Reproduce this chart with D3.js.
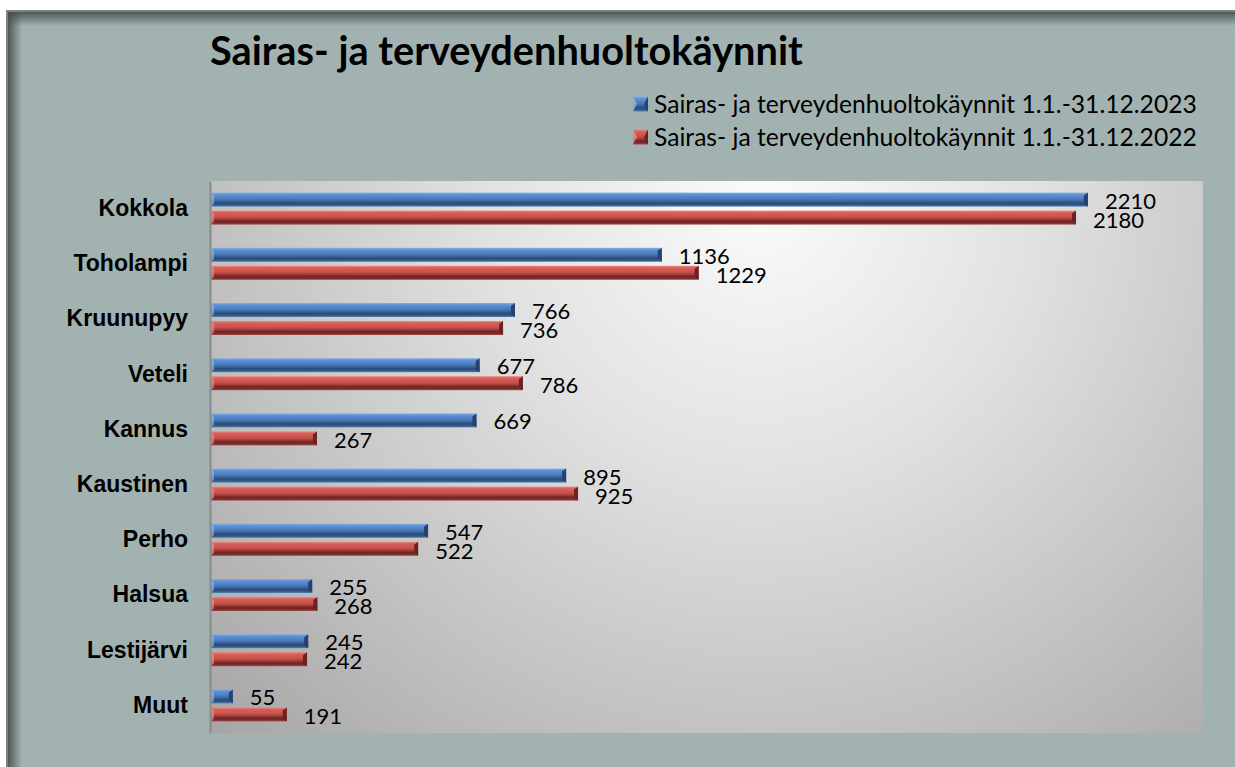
<!DOCTYPE html>
<html>
<head>
<meta charset="utf-8">
<style>
  html, body { margin: 0; padding: 0; background: #fff; }
  svg { display: block; }
</style>
<title>Sairas- ja terveydenhuoltokäynnit</title>
</head>
<body>
<script src="https://cdn.jsdelivr.net/npm/d3@7"></script>
<script>

// data
var categories = ["Kokkola", "Toholampi", "Kruunupyy", "Veteli", "Kannus", "Kaustinen", "Perho", "Halsua", "Lestijärvi", "Muut"];
var values2023 = [2210, 1136, 766, 677, 669, 895, 547, 255, 245, 55];
var values2022 = [2180, 1229, 736, 786, 267, 925, 522, 268, 242, 191];
var seriesNames = ["Sairas- ja terveydenhuoltokäynnit 1.1.-31.12.2023", "Sairas- ja terveydenhuoltokäynnit 1.1.-31.12.2022"];
var chartTitle = "Sairas- ja terveydenhuoltokäynnit";

var W = 1235, H = 767;
var plot = {left: 210, top: 181, right: 1203, bottom: 733};

var svg = d3.select("body").append("svg")
    .attr("width", W)
    .attr("height", H);

var defs = svg.append("defs");

// 3D-ish bevel gradients for the bars
function barGradient(id, stops) {
  var g = defs.append("linearGradient").attr("id", id)
      .attr("x1", 0).attr("y1", 0).attr("x2", 0).attr("y2", 1);
  stops.forEach(s => g.append("stop").attr("offset", s[0]).attr("stop-color", s[1]));
}
barGradient("gBlue", [[0, "#86b0e6"], [0.14, "#5e92d4"], [0.45, "#4a7bbd"], [0.62, "#3a6398"], [0.75, "#2a4a76"], [0.9, "#355c8e"], [1, "#5a83bb"]]);
barGradient("gRed", [[0, "#ee8a82"], [0.14, "#d8605a"], [0.45, "#c8524d"], [0.62, "#a23c39"], [0.75, "#6e2624"], [0.9, "#7e2e2c"], [1, "#a44a48"]]);

// plot area background
var bg = defs.append("radialGradient").attr("id", "gPlot")
    .attr("gradientUnits", "userSpaceOnUse")
    .attr("cx", 760).attr("cy", 200).attr("r", 760)
    .attr("fx", 760).attr("fy", 200);
bg.append("stop").attr("offset", 0).attr("stop-color", "#fbfbfb");
bg.append("stop").attr("offset", 0.35).attr("stop-color", "#e2e2e2");
bg.append("stop").attr("offset", 0.7).attr("stop-color", "#c2c2c2");
bg.append("stop").attr("offset", 1).attr("stop-color", "#a6a6a6");

// inner shadow of the frame
var sTop = defs.append("linearGradient").attr("id", "sTop")
    .attr("x1", 0).attr("y1", 0).attr("x2", 0).attr("y2", 1);
sTop.append("stop").attr("offset", 0).attr("stop-color", "#3f4a48").attr("stop-opacity", 0.85);
sTop.append("stop").attr("offset", 1).attr("stop-color", "#3f4a48").attr("stop-opacity", 0);
var sLeft = defs.append("linearGradient").attr("id", "sLeft")
    .attr("x1", 0).attr("y1", 0).attr("x2", 1).attr("y2", 0);
sLeft.append("stop").attr("offset", 0).attr("stop-color", "#3f4a48").attr("stop-opacity", 0.85);
sLeft.append("stop").attr("offset", 1).attr("stop-color", "#3f4a48").attr("stop-opacity", 0);

// frame
svg.append("rect")
    .attr("x", 7).attr("y", 11)
    .attr("width", W + 20).attr("height", H + 20)
    .attr("fill", "#a2b2b0")
    .attr("stroke", "#7f7f7f")
    .attr("stroke-width", 2);
svg.append("rect").attr("x", 8).attr("y", 12).attr("width", W).attr("height", 14).attr("fill", "url(#sTop)");
svg.append("rect").attr("x", 8).attr("y", 12).attr("width", 14).attr("height", H).attr("fill", "url(#sLeft)");

// scales
var x = d3.scaleLinear()
    .domain([0, 2500])
    .range([plot.left + 1, plot.right]);

var y = d3.scaleBand()
    .domain(categories)
    .range([plot.top, plot.bottom])
    .padding(0);

svg.append("rect")
    .attr("x", plot.left).attr("y", plot.top)
    .attr("width", plot.right - plot.left)
    .attr("height", plot.bottom - plot.top)
    .attr("fill", "url(#gPlot)");

// scale text so it spans the same width as in the picture
function fitWidth(sel, target) {
  var size = parseFloat(sel.style("font-size"));
  var len = sel.node().getComputedTextLength();
  sel.style("font-size", (size * target / len) + "px");
}

// title
svg.append("text")
    .attr("x", 210).attr("y", 65)
    .style("font-family", "Lato, 'Open Sans', sans-serif")
    .style("font-weight", 700)
    .style("font-size", "36px")
    .attr("fill", "#000")
    .text(chartTitle)
    .call(fitWidth, 593);

// bars
var barH = 14, gap = 4;
var series = [
  {name: seriesNames[0], values: values2023, fill: "url(#gBlue)", cap: "#24426b", capL: "#9cc0ee", off: -gap / 2 - barH, ly: 9},
  {name: seriesNames[1], values: values2022, fill: "url(#gRed)", cap: "#6a2321", capL: "#f09a94", off: gap / 2, ly: 10}
];

var rows = categories.map((c, i) => ({cat: c, i: i}));

series.forEach(function (s) {
  var g = svg.append("g");
  var bars = g.selectAll("g.bar")
      .data(rows)
      .enter().append("g")
      .attr("class", "bar");

  bars.append("rect")
      .attr("x", x(0))
      .attr("y", d => y(d.cat) + y.bandwidth() / 2 + s.off)
      .attr("width", d => x(s.values[d.i]) - x(0))
      .attr("height", barH)
      .attr("fill", s.fill);

  // bevelled right end
  bars.append("polygon")
      .attr("points", function (d) {
        var x1 = x(s.values[d.i]), y0 = y(d.cat) + y.bandwidth() / 2 + s.off, y1 = y0 + barH;
        var w = Math.min(4, (x1 - x(0)) / 2);
        return [[x1 - w, y0 + 3], [x1, y0], [x1, y1], [x1 - w, y1 - 3]].join(" ");
      })
      .attr("fill", s.cap);

  // bevelled left end
  bars.append("polygon")
      .attr("points", function (d) {
        var x0 = x(0), y0 = y(d.cat) + y.bandwidth() / 2 + s.off, y1 = y0 + barH;
        return [[x0, y0], [x0 + 3, y0 + 3], [x0 + 3, y1 - 3], [x0, y1]].join(" ");
      })
      .attr("fill", s.capL)
      .attr("opacity", 0.6);

  // value labels
  bars.append("text")
      .attr("x", d => x(s.values[d.i]) + 17)
      .attr("y", d => y(d.cat) + y.bandwidth() / 2 + s.off + barH / 2 + s.ly)
      .style("font-family", "Lato, 'Open Sans', sans-serif")
      .style("font-size", "22px")
      .attr("fill", "#000")
      .text(d => s.values[d.i]);
});

// axis line + category labels
var yAxis = svg.append("g")
    .attr("transform", "translate(" + plot.left + ",0)")
    .call(d3.axisLeft(y).tickSize(0).tickPadding(22));
yAxis.select(".domain")
    .attr("stroke", "#8a8a8a")
    .attr("stroke-width", 2);
yAxis.selectAll("text")
    .style("font-family", "'Liberation Sans', Arial, sans-serif")
    .style("font-weight", "bold")
    .style("font-size", "23px")
    .attr("fill", "#000");

// legend
var legend = svg.append("g");
series.forEach(function (s, i) {
  var ly = 104 + i * 33;
  var mx = 633, ms = 15, my = ly - ms / 2;
  legend.append("rect")
      .attr("x", mx).attr("y", my)
      .attr("width", ms).attr("height", ms)
      .attr("fill", s.fill);
  // pyramid-style marker sides
  legend.append("polygon")
      .attr("points", [[mx, my], [mx + 4, my + ms / 2], [mx, my + ms]].join(" "))
      .attr("fill", s.capL).attr("opacity", 0.7);
  legend.append("polygon")
      .attr("points", [[mx + ms, my], [mx + ms - 4, my + ms / 2], [mx + ms, my + ms]].join(" "))
      .attr("fill", s.cap);
  legend.append("text")
      .attr("x", 654).attr("y", ly)
      .attr("dy", "0.36em")
      .style("font-family", "Lato, 'Open Sans', sans-serif")
      .style("font-size", "22px")
      .attr("fill", "#000")
      .text(s.name)
      .call(fitWidth, 543);
});

</script>
</body>
</html>
